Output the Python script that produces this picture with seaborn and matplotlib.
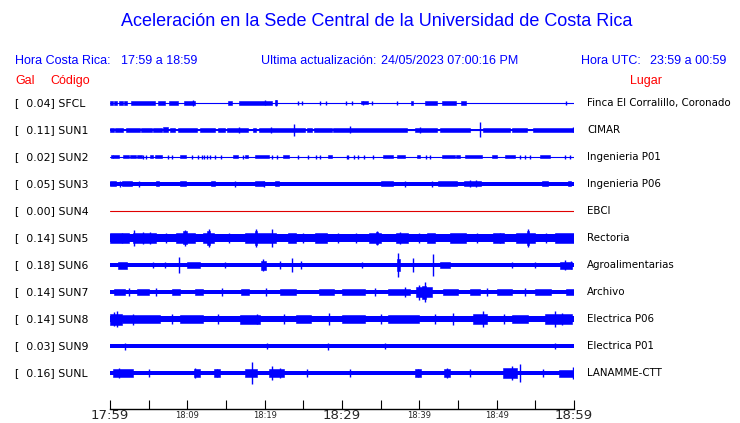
import pandas as pd
import numpy as np
import seaborn as sns
import matplotlib
matplotlib.use("Agg")
import matplotlib.pyplot as plt
from matplotlib.transforms import blended_transform_factory

# =========================
# Data
# =========================
stations = ["SFCL", "SUN1", "SUN2", "SUN3", "SUN4", "SUN5",
            "SUN6", "SUN7", "SUN8", "SUN9", "SUNL"]
gal = [0.04, 0.11, 0.02, 0.05, 0.00, 0.14, 0.18, 0.14, 0.14, 0.03, 0.16]
places = ["Finca El Corralillo, Coronado", "CIMAR", "Ingenieria P01",
          "Ingenieria P06", "EBCI", "Rectoria", "Agroalimentarias",
          "Archivo", "Electrica P06", "Electrica P01", "LANAMME-CTT"]

# minutes after 17:59 for the time axis
tick_minutes = list(range(0, 61, 5))
tick_labels = ["17:59", "", "18:09", "", "18:19", "", "18:29",
               "", "18:39", "", "18:49", "", "18:59"]

# trace envelopes (half amplitude, 27 units = distance between traces)
base_amp = [0, 0.6, 0, 1.8, 0, 3.8, 2.3, 2.4, 3.3, 2.1, 2.4]

# bursts: (start min, end min, half amplitude)
bursts = {
    "SFCL": [(0.0, 0.4, 1.7), (0.5, 0.9, 1.7), (1.2, 1.7, 1.7), (1.8, 2.2, 1.7),
             (2.7, 5.8, 1.7), (6.2, 7.1, 1.7), (7.6, 8.8, 1.7), (9.6, 11.0, 1.7),
             (15.3, 15.8, 1.7), (16.7, 20.9, 1.7), (21.3, 21.6, 2.5),
             (32.5, 33.4, 1.5), (38.9, 39.2, 1.7), (40.7, 42.3, 1.7),
             (42.9, 44.7, 1.7), (45.4, 46.0, 1.7)],
    "SUN1": [(0.0, 0.5, 1.8), (0.6, 1.7, 1.8), (2.1, 3.9, 1.8), (4.0, 5.4, 1.8),
             (5.6, 6.7, 1.8), (6.9, 7.5, 2.5), (7.8, 8.4, 1.8), (8.8, 11.2, 1.8),
             (11.6, 13.6, 1.8), (14.0, 14.9, 1.8), (15.1, 17.8, 1.8),
             (18.5, 18.9, 1.8), (19.3, 25.2, 1.8), (25.5, 26.1, 1.8),
             (26.4, 28.7, 1.8), (28.8, 38.4, 1.8), (39.4, 42.3, 1.8),
             (42.7, 46.5, 1.8), (48.2, 51.7, 1.8), (52.0, 53.9, 1.8),
             (54.7, 60.0, 1.8)],
    "SUN2": [(0.1, 0.35, 1.5), (0.4, 1.2, 1.5), (1.7, 2.5, 1.5), (2.6, 3.4, 1.5),
             (3.5, 4.1, 1.5), (5.2, 5.6, 1.5), (5.8, 6.7, 1.5), (9.1, 9.8, 1.5),
             (15.9, 16.6, 1.5), (17.5, 17.9, 1.5), (18.7, 20.6, 1.5),
             (22.4, 23.1, 1.5), (28.2, 28.7, 1.5), (35.3, 36.6, 1.5),
             (37.1, 38.1, 1.5), (39.7, 40.1, 1.5), (42.9, 44.6, 1.5),
             (44.8, 45.3, 1.5), (45.9, 48.1, 1.5), (49.4, 50.0, 1.5),
             (51.1, 52.4, 1.5), (55.6, 56.9, 1.5)],
    "SUN3": [(0.0, 0.8, 2.5), (1.5, 2.8, 2.5), (5.9, 6.3, 2.5), (9.1, 9.8, 2.5),
             (13.0, 13.6, 2.5), (18.8, 19.9, 2.5), (21.3, 21.9, 2.5),
             (35.0, 36.6, 2.5), (42.4, 44.9, 2.5), (45.8, 48.0, 2.5),
             (55.8, 56.6, 2.5), (59.2, 59.6, 2.5)],
    "SUN4": [],
    "SUN5": [(0.0, 2.5, 4.8), (3.0, 6.0, 4.8), (8.5, 11.0, 4.8), (12.0, 13.5, 4.8),
             (17.5, 21.5, 4.8), (23.0, 24.0, 4.8), (26.5, 28.0, 4.8),
             (33.5, 35.0, 4.8), (37.0, 38.5, 4.8), (41.0, 42.0, 4.8),
             (44.0, 46.0, 4.8), (49.5, 51.0, 4.8), (52.5, 55.0, 4.8),
             (57.5, 60.0, 5.2), (9.5, 9.9, 6.5), (12.6, 12.9, 7), (18.7, 19.0, 7),
             (34.4, 34.7, 6), (53.9, 54.2, 7)],
    "SUN6": [(1.0, 2.2, 3.5), (10.0, 11.6, 3), (19.5, 20.2, 4.5), (42.7, 44.0, 3),
             (58.2, 59.7, 3.5), (37.1, 37.5, 6)],
    "SUN7": [(0.5, 2.0, 3.3), (3.5, 5.0, 3.3), (8.0, 9.0, 3.3), (11.0, 12.0, 3.3),
             (17.0, 18.0, 3.3), (22.0, 24.0, 3.3), (27.0, 29.0, 3.3),
             (30.0, 33.0, 3.3), (36.0, 38.8, 3.3), (43.0, 45.0, 3.3),
             (46.5, 47.8, 3.3), (50.0, 52.0, 3.3), (55.0, 57.0, 3.3),
             (59.0, 60.0, 3.3), (39.6, 41.6, 5), (40.3, 40.9, 6.5)],
    "SUN8": [(0.0, 1.6, 5.5), (1.6, 6.5, 4.3), (9.0, 12.0, 4), (16.8, 19.4, 4.5),
             (24.0, 26.0, 4), (30.0, 33.0, 4), (36.0, 40.0, 4), (46.9, 48.7, 4.8),
             (52.0, 54.0, 4), (56.2, 59.7, 4.8)],
    "SUN9": [],
    "SUNL": [(0.4, 3.0, 3.8), (10.8, 11.6, 4), (13.5, 14.2, 3.8), (17.5, 19.0, 3.8),
             (20.5, 22.5, 4), (39.5, 40.2, 3.8), (43.2, 44.0, 4),
             (50.8, 52.6, 4.8), (58.0, 60.0, 3.5)],
}

# spikes: (minute, half amplitude)
spikes = {
    "SFCL": [(10.7, 3), (20.0, 2.5), (21.5, 3), (24.3, 2), (24.8, 2), (27.2, 2),
             (27.9, 2), (30.5, 1.8), (31.3, 2), (32.7, 2), (33.9, 2), (37.1, 1.8),
             (59.0, 2)],
    "SUN1": [(16.7, 3), (20.8, 3), (23.8, 6), (31.0, 3.5), (40.1, 3), (47.8, 7.5),
             (59.9, 2.5)],
    "SUN2": [(4.3, 1.6), (4.7, 1.6), (7.5, 1.6), (8.0, 1.6), (10.6, 1.6),
             (11.4, 1.6), (11.9, 1.6), (12.2, 1.6), (12.6, 1.6), (12.9, 1.6),
             (13.6, 1.6), (14.4, 1.6), (17.2, 1.6), (20.9, 1.6), (21.6, 1.6),
             (24.3, 1.6), (25.6, 1.6), (26.7, 1.6), (27.2, 1.6), (30.6, 1.6),
             (30.8, 1.6), (31.5, 1.6), (32.1, 1.6), (32.8, 1.6), (34.0, 1.6),
             (40.9, 1.6), (41.4, 1.6), (53.0, 1.6), (53.7, 1.6), (54.3, 1.6),
             (58.8, 1.6), (59.5, 1.6)],
    "SUN3": [(19.9, 3.2), (46.5, 3.5), (47.3, 3.5), (1.3, 2.8), (3.7, 2.8),
             (16.2, 2.8), (38.2, 2.8), (41.6, 2.8)],
    "SUN4": [],
    "SUN5": [(3.1, 8), (4.3, 6), (5.2, 6), (9.7, 8), (12.8, 9), (18.9, 9),
             (20.9, 9), (34.5, 7), (37.5, 6), (50.4, 5), (54.0, 9), (1.5, 5.5),
             (7.2, 5.5), (15.4, 5.5), (25.0, 5.5), (29.5, 5.5), (31.8, 5.5),
             (40.0, 5.5), (47.5, 5.5), (56.4, 5.5)],
    "SUN6": [(5.6, 3), (7.1, 3), (8.9, 8), (14.9, 3), (19.8, 6), (22.0, 4),
             (23.5, 7), (24.7, 4), (32.6, 3), (37.3, 12), (39.2, 7), (41.8, 11),
             (52.0, 3), (55.0, 3), (58.9, 5), (59.6, 4)],
    "SUN7": [(40.7, 10), (38.2, 5), (40.0, 7.5), (2.5, 4), (6.0, 4), (14.5, 4),
             (20.2, 4), (34.3, 4), (48.8, 4), (53.6, 4)],
    "SUN8": [(0.5, 7), (0.9, 8), (19.0, 5), (28.3, 6), (44.3, 6), (48.2, 8),
             (57.5, 8), (58.5, 6), (3.0, 5.5), (8.0, 5), (14.0, 5), (22.5, 5),
             (35.0, 5), (42.0, 5), (51.0, 5)],
    "SUN9": [(1.9, 3.5), (20.3, 3), (28.2, 3.5), (35.6, 3), (57.5, 3)],
    "SUNL": [(11.0, 5), (13.8, 4), (18.4, 11), (20.9, 7), (22.0, 5), (39.8, 4),
             (43.6, 5), (52.0, 7), (53.0, 9), (59.9, 6), (1.2, 5), (5.0, 4),
             (25.5, 4), (31.0, 4), (46.5, 4), (56.0, 4)],
}

# =========================
# Figure
# =========================
sns.set_style("white")
plt.rcParams["font.family"] = ["DejaVu Sans"]

W, H = 740, 423
fig = plt.figure(figsize=(W / 100, H / 100), dpi=100)

ax = fig.add_axes([110 / W, 1 - 386.5 / H, 464 / W, 297 / H])
scale = 1 / 27.0
blue = "#0000ff"

# zero lines of each trace
rows = []
for i, s in enumerate(stations):
    rows.append({"t": 0, "row": i, "station": s})
    rows.append({"t": 60, "row": i, "station": s})
lines_df = pd.DataFrame(rows)
palette = {s: ("#e00000" if s == "SUN4" else blue) for s in stations}
sns.lineplot(data=lines_df, x="t", y="row", hue="station", palette=palette,
             legend=False, linewidth=0.8, ax=ax)

for i, s in enumerate(stations):
    b = base_amp[i] * scale
    if b > 0:
        ax.fill_between([0, 60], i - b, i + b, color=blue, linewidth=0)
    for t0, t1, a in bursts[s]:
        ax.bar(t0, 2 * a * scale, width=t1 - t0, bottom=i - a * scale,
               align="edge", color=blue, linewidth=0.4, edgecolor=blue)
    for t, a in spikes[s]:
        ax.vlines(t, i - a * scale, i + a * scale, color=blue, linewidth=1.0)

ax.set_xlim(0, 60)
ax.set_ylim(10.5, -0.5)
ax.axis("off")

# station labels (left) and places (right)
tr_left = blended_transform_factory(fig.transFigure, ax.transData)
for i, s in enumerate(stations):
    ax.text(15 / W, i, f"[  {gal[i]:.2f}] {s}", transform=tr_left,
            ha="left", va="center", fontsize=7.8, color="black")
    ax.text(587 / W, i, places[i], transform=tr_left,
            ha="left", va="center", fontsize=7.4, color="black")

# time axis
tax = fig.add_axes([110 / W, 1 - 409 / H, 464 / W, 0.02])
tax.set_xlim(0, 60)
tax.patch.set_visible(False)
for side in ["top", "left", "right"]:
    tax.spines[side].set_visible(False)
tax.spines["bottom"].set_linewidth(1.0)
tax.spines["bottom"].set_color("black")
tax.set_yticks([])
tax.set_xticks(tick_minutes)
tax.set_xticklabels(tick_labels)
tax.tick_params(axis="x", direction="in", length=6.5, width=0.8,
                color="black", pad=5, bottom=True)
for lab in tax.get_xticklabels():
    lab.set_va("center")
    if lab.get_text() in ("17:59", "18:29", "18:59"):
        lab.set_fontsize(9.5)
    else:
        lab.set_fontsize(6)

# header texts
hfont = "Liberation Sans"
fig.text(377 / W, 1 - 22 / H, "Aceleración en la Sede Central de la Universidad de Costa Rica",
         ha="center", va="center", fontsize=13, color=blue, family=hfont)
y_hdr = 1 - 61 / H
fig.text(15 / W, y_hdr, "Hora Costa Rica:", ha="left", va="center",
         fontsize=9, color=blue, family=hfont)
fig.text(121 / W, y_hdr, "17:59 a 18:59", ha="left", va="center",
         fontsize=9, color=blue, family=hfont)
fig.text(261 / W, y_hdr, "Ultima actualización:", ha="left", va="center",
         fontsize=9, color=blue, family=hfont)
fig.text(381 / W, y_hdr, "24/05/2023 07:00:16 PM", ha="left", va="center",
         fontsize=9, color=blue, family=hfont)
fig.text(581 / W, y_hdr, "Hora UTC:", ha="left", va="center",
         fontsize=9, color=blue, family=hfont)
fig.text(650 / W, y_hdr, "23:59 a 00:59", ha="left", va="center",
         fontsize=9, color=blue, family=hfont)

y_sub = 1 - 81 / H
fig.text(15 / W, y_sub, "Gal", ha="left", va="center", fontsize=9,
         color="red", family=hfont)
fig.text(50 / W, y_sub, "Código", ha="left", va="center", fontsize=9,
         color="red", family=hfont)
fig.text(630 / W, y_sub, "Lugar", ha="left", va="center", fontsize=9,
         color="red", family=hfont)

fig.savefig("out.png", dpi=100)
